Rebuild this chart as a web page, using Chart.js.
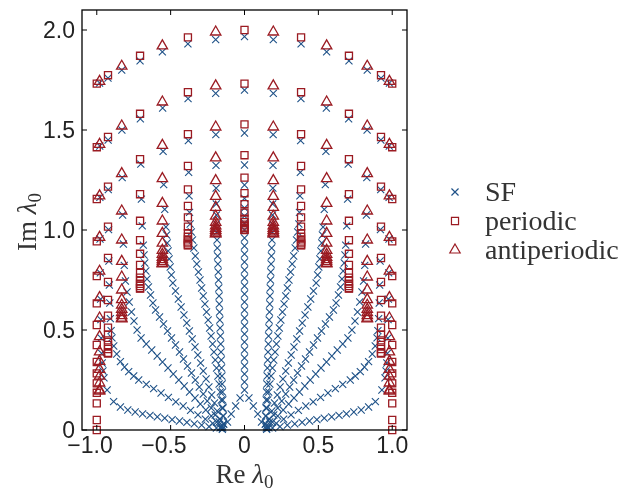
<!DOCTYPE html>
<html>
<head>
<meta charset="utf-8">
<script src="https://cdn.jsdelivr.net/npm/chart.js@4.4.1/dist/chart.umd.min.js"></script>
<style>
  body { margin: 0; background: #fff; }
  canvas { display: block; }
</style>
</head>
<body>
<canvas id="myChart" width="624" height="490"></canvas>
<script>
// axis ticks
var xTicks = [-1, -0.5, 0, 0.5, 1];
var xTickLabels = ['\u22121.0', '\u22120.5', '0', '0.5', '1.0'];
var yTicks = [0, 0.5, 1, 1.5, 2];
var yTickLabels = ['0', '0.5', '1.0', '1.5', '2.0'];

// periodic: column positions (|Re|) and the Im values read in each column
var perColX = [0, 0.383, 0.707, 0.924, 1.0];
var perY0   = [2.0, 1.732, 1.528, 1.374, 1.262, 1.184, 1.129, 1.087, 1.056, 1.039, 1.027, 1.017, 1.009, 1.001, 1.0];
var perY383 = [1.963, 1.689, 1.479, 1.320, 1.203, 1.120, 1.063, 1.017, 0.984, 0.966, 0.953, 0.942, 0.933, 0.925, 0.924];
var perY707 = [1.871, 1.581, 1.354, 1.179, 1.046, 0.949, 0.881, 0.825, 0.785, 0.762, 0.745, 0.731, 0.720, 0.709, 0.707];
var perY924 = [1.774, 1.465, 1.217, 1.017, 0.860, 0.740, 0.650, 0.572, 0.512, 0.476, 0.448, 0.425, 0.405, 0.386, 0.382];
var perY1   = [1.732, 1.414, 1.155, 0.943, 0.770, 0.633, 0.525, 0.425, 0.340, 0.283, 0.233, 0.186, 0.133, 0.050, 0.0];

// antiperiodic
var apColX = [0.195, 0.556, 0.831, 0.981];
var apY195 = [1.990, 1.721, 1.515, 1.361, 1.247, 1.168, 1.113, 1.069, 1.038, 1.021, 1.008, 0.998, 0.990, 0.982, 0.981];
var apY556 = [1.921, 1.640, 1.423, 1.257, 1.133, 1.045, 0.983, 0.934, 0.898, 0.878, 0.863, 0.852, 0.842, 0.833, 0.831];
var apY831 = [1.819, 1.520, 1.282, 1.095, 0.950, 0.843, 0.765, 0.700, 0.652, 0.624, 0.603, 0.587, 0.572, 0.559, 0.556];
var apY981 = [1.743, 1.428, 1.171, 0.963, 0.794, 0.662, 0.560, 0.467, 0.391, 0.343, 0.303, 0.269, 0.235, 0.200, 0.194];

// SF: centre column (signed Re), then the curves on each side as [|Re|, Im]
var sfMid = [[0,1.967],[0,1.699],[0,1.485],[0,1.325],[0,1.225],[0,1.158],[0,1.11],[0,1.07],[0,1.035],[0,1.0],
  [0,0.96],[0,0.92],[0,0.88],[0,0.84],[0,0.80],[0,0.76],[0,0.72],[0,0.68],[0,0.64],[0,0.60],[0,0.56],[0,0.52],
  [0,0.48],[0,0.44],[0,0.40],[0,0.36],[0,0.32],[0,0.28],[0,0.24],[0,0.20],[-0.03,0.16],[0.03,0.16],
  [-0.06,0.12],[0.06,0.12],[-0.09,0.08],[0.09,0.08],[-0.115,0.04],[0.115,0.04]];
var sf195 = [[0.195,1.952],[0.195,1.683],[0.194,1.477],[0.193,1.323],[0.192,1.209],[0.191,1.13],[0.19,1.075],
  [0.189,1.031],[0.188,0.99],[0.186,0.95],[0.184,0.91],[0.182,0.87],[0.18,0.83],[0.178,0.79],[0.176,0.75],
  [0.174,0.71],[0.172,0.67],[0.171,0.63],[0.169,0.59],[0.167,0.55],[0.165,0.51],[0.163,0.47],[0.161,0.43],
  [0.159,0.39],[0.157,0.35],[0.155,0.31],[0.153,0.27],[0.151,0.23],[0.149,0.19],[0.147,0.15],[0.145,0.11],
  [0.143,0.07],[0.141,0.03]];
var sf383 = [[0.383,1.931],[0.382,1.657],[0.38,1.447],[0.378,1.288],[0.375,1.171],[0.372,1.088],[0.368,1.03],
  [0.36,0.99],[0.352,0.95],[0.343,0.91],[0.333,0.87],[0.323,0.83],[0.312,0.79],[0.301,0.75],[0.29,0.71],
  [0.279,0.67],[0.268,0.63],[0.257,0.59],[0.246,0.55],[0.236,0.51],[0.226,0.47],[0.216,0.43],[0.207,0.39],
  [0.198,0.35],[0.189,0.31],[0.18,0.27],[0.172,0.23],[0.164,0.19],[0.157,0.15],[0.151,0.11],[0.146,0.07],
  [0.142,0.03]];
var sf556 = [[0.556,1.891],[0.554,1.61],[0.551,1.393],[0.547,1.227],[0.54,1.103],[0.532,1.015],[0.527,0.975],
  [0.523,0.935],[0.517,0.895],[0.51,0.855],[0.503,0.815],[0.495,0.775],[0.485,0.735],[0.467,0.695],
  [0.448,0.655],[0.429,0.615],[0.41,0.575],[0.391,0.535],[0.373,0.495],[0.354,0.455],[0.335,0.415],
  [0.316,0.375],[0.297,0.335],[0.279,0.295],[0.26,0.255],[0.241,0.215],[0.222,0.175],[0.203,0.135],
  [0.185,0.095],[0.166,0.055],[0.149,0.02]];
var sf707 = [[0.707,1.846],[0.705,1.556],[0.702,1.329],[0.698,1.154],[0.692,1.021],[0.685,0.924],[0.68,0.875],
  [0.675,0.835],[0.668,0.795],[0.66,0.755],[0.65,0.715],[0.636,0.675],[0.62,0.635],[0.602,0.6],[0.575,0.565],
  [0.548,0.53],[0.521,0.495],[0.494,0.46],[0.467,0.425],[0.44,0.39],[0.413,0.355],[0.386,0.32],[0.359,0.285],
  [0.333,0.25],[0.306,0.215],[0.279,0.18],[0.252,0.145],[0.225,0.11],[0.198,0.075],[0.171,0.04],[0.148,0.01]];
var sf831 = [[0.831,1.799],[0.83,1.5],[0.828,1.262],[0.825,1.075],[0.82,0.93],[0.814,0.823],[0.806,0.745],
  [0.795,0.69],[0.78,0.64],[0.765,0.59],[0.748,0.545],[0.727,0.5],[0.7,0.46],[0.665,0.43],[0.628,0.4],
  [0.591,0.37],[0.555,0.34],[0.518,0.31],[0.482,0.28],[0.445,0.25],[0.408,0.22],[0.372,0.19],[0.335,0.16],
  [0.299,0.13],[0.262,0.1],[0.225,0.07],[0.189,0.04],[0.158,0.015]];
var sf924 = [[0.924,1.759],[0.923,1.45],[0.922,1.202],[0.92,1.002],[0.918,0.845],[0.915,0.725],[0.912,0.635],
  [0.908,0.557],[0.903,0.497],[0.897,0.461],[0.885,0.42],[0.865,0.38],[0.84,0.342],[0.812,0.315],[0.784,0.292],
  [0.75,0.27],[0.716,0.25],[0.665,0.228],[0.615,0.207],[0.565,0.185],[0.515,0.163],[0.465,0.141],[0.415,0.12],
  [0.365,0.098],[0.315,0.076],[0.265,0.054],[0.215,0.033],[0.165,0.011]];
var sf981 = [[0.981,1.735],[0.98,1.42],[0.979,1.163],[0.978,0.955],[0.976,0.786],[0.974,0.654],[0.972,0.552],
  [0.97,0.459],[0.967,0.383],[0.963,0.335],[0.958,0.295],[0.951,0.261],[0.93,0.2],[0.886,0.142],[0.84,0.115],
  [0.79,0.1],[0.74,0.09],[0.69,0.081],[0.64,0.073],[0.59,0.066],[0.54,0.059],[0.49,0.052],[0.44,0.045],
  [0.39,0.038],[0.34,0.031],[0.29,0.024],[0.24,0.017],[0.19,0.01],[0.15,0.003]];

var blue = '#1f5288';
var red = '#9b1b22';

function bothSides(cols) {
    var out = [];
    cols.forEach(function(col) {
        col.forEach(function(p) {
            out.push({x: -p[0], y: p[1]});
            out.push({x: p[0], y: p[1]});
        });
    });
    return out;
}

function columns(colX, colY) {
    var out = [];
    for (var i = 0; i < colX.length; i++) {
        colY[i].forEach(function(v) {
            if (colX[i] == 0) {
                out.push({x: 0, y: v});
            } else {
                out.push({x: -colX[i], y: v});
                out.push({x: colX[i], y: v});
            }
        });
    }
    return out;
}

var sfData = sfMid.map(function(p) { return {x: p[0], y: p[1]}; })
    .concat(bothSides([sf195, sf383, sf556, sf707, sf831, sf924, sf981]));
var perData = columns(perColX, [perY0, perY383, perY707, perY924, perY1]);
var apData = columns(apColX, [apY195, apY556, apY831, apY981]);

function drawParts(ctx, parts, cx, cy, rot) {
    var total = 0;
    parts.forEach(function(p) { ctx.font = p.font; total += ctx.measureText(p.t).width; });
    ctx.save();
    ctx.translate(cx, cy);
    ctx.rotate(rot);
    ctx.textAlign = 'left';
    ctx.textBaseline = 'alphabetic';
    var xx = -total / 2;
    parts.forEach(function(p) {
        ctx.font = p.font;
        ctx.fillText(p.t, xx, p.dy || 0);
        xx += ctx.measureText(p.t).width;
    });
    ctx.restore();
}

function axisParts(word) {
    return [
        {t: word + ' ', font: '27px "Liberation Serif"'},
        {t: '\u03bb', font: 'italic 27px "Liberation Serif"'},
        {t: '0', font: '19px "Liberation Serif"', dy: 5}
    ];
}

var decor = {
    id: 'decor',
    beforeDraw: function(chart) {
        var ctx = chart.ctx;
        ctx.save();
        ctx.fillStyle = '#fff';
        ctx.fillRect(0, 0, chart.width, chart.height);
        ctx.restore();
    },
    afterDraw: function(chart) {
        var ctx = chart.ctx;
        var a = chart.chartArea;
        var x = chart.scales.x, y = chart.scales.y;
        ctx.save();
        ctx.strokeStyle = '#000';
        ctx.lineWidth = 1.3;
        ctx.strokeRect(a.left, a.top, a.right - a.left, a.bottom - a.top);
        ctx.lineWidth = 1;
        ctx.beginPath();
        xTicks.forEach(function(v) {
            var px = x.getPixelForValue(v);
            ctx.moveTo(px, a.bottom); ctx.lineTo(px, a.bottom - 5);
            ctx.moveTo(px, a.top); ctx.lineTo(px, a.top + 5);
        });
        yTicks.forEach(function(v) {
            var py = y.getPixelForValue(v);
            ctx.moveTo(a.left, py); ctx.lineTo(a.left + 5, py);
            ctx.moveTo(a.right, py); ctx.lineTo(a.right - 5, py);
        });
        ctx.stroke();

        // tick labels
        ctx.fillStyle = '#222';
        ctx.font = '23px "Liberation Sans"';
        ctx.textBaseline = 'alphabetic';
        ctx.textAlign = 'left';
        var minusW = ctx.measureText('\u2212').width;
        xTicks.forEach(function(v, i) {
            var lab = xTickLabels[i];
            var px = x.getPixelForValue(v);
            var neg = lab.charAt(0) == '\u2212';
            var body = neg ? lab.substring(1) : lab;
            var w = ctx.measureText(body).width;
            ctx.fillText(lab, px - w / 2 - (neg ? minusW : 0), a.bottom + 23);
        });
        ctx.textAlign = 'right';
        yTicks.forEach(function(v, i) {
            ctx.fillText(yTickLabels[i], a.left - 7, y.getPixelForValue(v) + 8.3);
        });

        // axis titles
        ctx.fillStyle = '#333';
        drawParts(ctx, axisParts('Re'), (a.left + a.right) / 2, 483, 0);
        drawParts(ctx, axisParts('Im'), 36, 222, -Math.PI / 2);

        // legend
        var items = [
            {label: 'SF', style: 'crossRot', color: blue, r: 5, y: 192},
            {label: 'periodic', style: 'rect', color: red, r: 5, y: 221},
            {label: 'antiperiodic', style: 'triangle', color: red, r: 6, y: 250}
        ];
        ctx.font = '28px "Liberation Serif"';
        ctx.textAlign = 'left';
        items.forEach(function(it) {
            ctx.strokeStyle = it.color;
            ctx.fillStyle = 'rgba(0,0,0,0)';
            ctx.lineWidth = 1.2;
            Chart.helpers.drawPoint(ctx, {pointStyle: it.style, radius: it.r, rotation: 0, borderWidth: 1.2}, 455, it.y);
            ctx.fillStyle = '#333';
            ctx.fillText(it.label, 485, it.y + 8.5);
        });
        ctx.restore();
    }
};

var config = {
    type: 'scatter',
    data: {
        datasets: [{
            label: 'SF',
            data: sfData,
            pointStyle: 'crossRot',
            pointRadius: 5,
            borderColor: blue,
            backgroundColor: blue,
            borderWidth: 1.1,
            order: 3,
            clip: false
        }, {
            label: 'periodic',
            data: perData,
            pointStyle: 'rect',
            pointRadius: 5,
            borderColor: red,
            backgroundColor: 'rgba(0,0,0,0)',
            borderWidth: 1.3,
            order: 2,
            clip: false
        }, {
            label: 'antiperiodic',
            data: apData,
            pointStyle: 'triangle',
            pointRadius: 6,
            borderColor: red,
            backgroundColor: 'rgba(0,0,0,0)',
            borderWidth: 1.3,
            order: 1,
            clip: false
        }]
    },
    options: {
        responsive: false,
        animation: false,
        devicePixelRatio: 1,
        layout: {padding: {top: 10, right: 217, left: 0, bottom: 0}},
        plugins: {legend: {display: false}, tooltip: {enabled: false}},
        scales: {
            x: {
                type: 'linear', min: -1.1, max: 1.1,
                grid: {display: false}, border: {display: false},
                ticks: {display: false},
                afterFit: function(s) { s.height = 60; }
            },
            y: {
                type: 'linear', min: 0, max: 2.1,
                grid: {display: false}, border: {display: false},
                ticks: {display: false},
                afterFit: function(s) { s.width = 82; }
            }
        }
    },
    plugins: [decor]
};

var ctx = document.getElementById('myChart').getContext('2d');
var myChart = new Chart(ctx, config);
</script>
</body>
</html>
